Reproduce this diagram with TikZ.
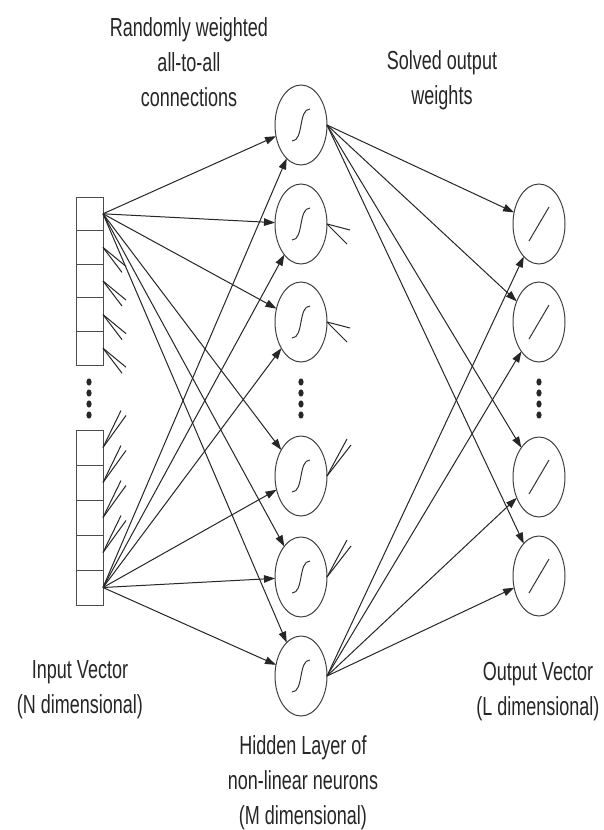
\documentclass[tikz,border=0pt]{standalone}
\usepackage{fontspec}
\setmainfont{Liberation Sans}
\usetikzlibrary{arrows.meta,shapes.geometric}
\newcommand{\vs}[1]{\scalebox{1}[1.45]{#1}}
\begin{document}
\begin{tikzpicture}[x=1pt,y=-1pt,
  ln/.style={draw=black!85, line width=1pt},
  arr/.style={ln, -{Triangle[length=11pt,width=7.5pt]}},
  inbox/.style={rectangle, draw=black!70, line width=1pt, minimum width=27pt, inner sep=0pt, outer sep=0pt},
  neuron/.style={ellipse, draw=black!75, line width=1pt, minimum width=52pt, minimum height=80pt, inner sep=0pt, outer sep=0pt},
  sym/.style={draw=black!80, line width=1pt},
  lbl/.style={font=\fontsize{18}{35}\selectfont, text=black!85, align=center, inner sep=0pt},
  dotmark/.style={fill=black!85}]
\fill[white] (0,0) rectangle (603,830);
\useasboundingbox (0,0) rectangle (603,830);

% input boxes
\foreach \y [count=\i] in {213.8,247.4,281,314.6,348.2}
  \node[inbox, minimum height=33.6pt] (in\i) at (89.5,\y) {};
\foreach \y [count=\i from 6] in {447.5,482.5,517.5,552.5,587.5}
  \node[inbox, minimum height=35pt] (in\i) at (89.5,\y) {};

% hidden neurons
\foreach \y [count=\i] in {125,224,322,476,577,676}{
  \node[neuron] (h\i) at (301,\y) {};
  \draw[sym] (292,\y+16) .. controls (304,\y+16) and (298,\y-16) .. (310,\y-16);
}
% output neurons
\foreach \y [count=\i] in {224,322,477,576}{
  \node[neuron] (o\i) at (539,\y) {};
  \draw[sym] (529,\y+17) -- (549,\y-17);
}

% dots
\foreach \x in {89,301,539}
  \foreach \y in {382,393,404,415}
    \fill[dotmark] (\x,\y) ellipse [x radius=2.6, y radius=3.6];

% input -> hidden
\foreach \j in {1,...,6}{
  \draw[arr] (in1.east) -- (h\j);
  \draw[arr] (in10.east) -- (h\j);
}
% hidden -> output
\foreach \j in {1,...,4}{
  \draw[arr] (h1.east) -- (o\j);
  \draw[arr] (h6.east) -- (o\j);
}

% truncated stubs
\foreach \i in {2,...,5}{
  \draw[ln] (in\i.east) -- ++(19,25);
  \draw[ln] (in\i.east) -- ++(23,19);
}
\foreach \i in {6,...,9}{
  \draw[ln] (in\i.east) -- ++(18,-37);
  \draw[ln] (in\i.east) -- ++(23,-32);
}
\foreach \i in {2,3}{
  \draw[ln] (h\i.east) -- ++(23,6);
  \draw[ln] (h\i.east) -- ++(20,20);
}
\foreach \i in {4,5}{
  \draw[ln] (h\i.east) -- ++(20,-37);
  \draw[ln] (h\i.east) -- ++(24,-31);
}

% labels
\node[lbl] (tl) at (189,62) {\vs{Randomly weighted}\\\vs{all-to-all}\\\vs{connections}};
\node[lbl] (tr) at (442,80) {\vs{Solved output}\\\vs{weights}};
\node[lbl] (li) at (80,690) {\vs{Input Vector}\\\vs{(N dimensional)}};
\node[lbl] (lo) at (538,692) {\vs{Output Vector}\\\vs{(L dimensional)}};
\node[lbl] (lh) at (303,783) {\vs{Hidden Layer of}\\\vs{non-linear neurons}\\\vs{(M dimensional)}};
\end{tikzpicture}
\end{document}
